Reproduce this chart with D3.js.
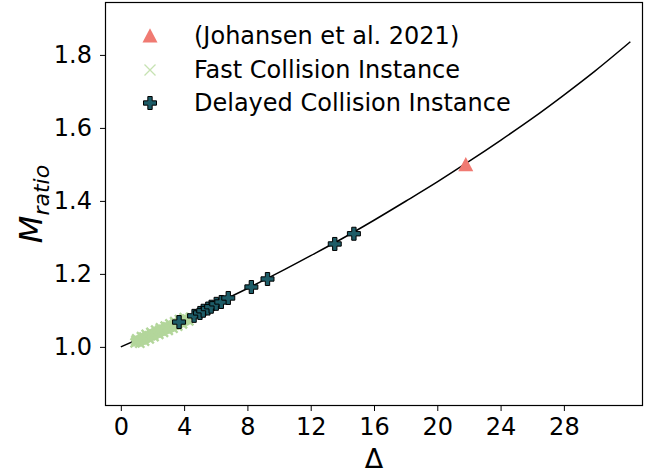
<!DOCTYPE html>
<html>
<head>
<meta charset="utf-8">
<script src="https://cdn.jsdelivr.net/npm/d3@7"></script>
<style>
body { margin: 0; background: #fff; }
svg text { font-family: "DejaVu Sans", sans-serif; fill: #000; }
</style>
</head>
<body>
<div id="chart"></div>
<script>
// fitted relation
var curveDelta = [0, 2, 4, 6, 8, 10, 12, 14, 16, 18, 20, 22, 24, 26, 28, 30, 32.2];
var curveM = [1.000, 1.038, 1.077, 1.118, 1.160, 1.204, 1.250, 1.297, 1.347, 1.399, 1.452, 1.508, 1.566, 1.626, 1.690, 1.757, 1.836];

// Johansen et al. 2021
var johansenDelta = [21.8];
var johansenM = [1.499];

// fast collision instances (dense band)
var fastDelta = [0.9, 1.0, 1.1, 1.2, 1.3, 1.4, 1.5, 1.6, 1.7, 1.8, 1.9, 2.0, 2.1, 2.2, 2.3, 2.4, 2.5, 2.6, 2.7, 2.8, 2.9, 3.0, 3.1, 3.2, 3.3, 3.4, 3.5, 3.6, 3.7, 3.8, 3.9, 4.0, 4.1, 4.2,
    1.0, 1.3, 1.6, 1.9, 2.2, 2.5, 2.8, 3.1, 3.4, 3.7, 4.0,
    1.2, 1.5, 1.8, 2.1, 2.4, 2.7, 3.0, 3.3, 3.6, 3.9, 4.3,
    0.95, 1.45, 1.95, 2.45, 2.95, 3.45, 3.95, 4.4];
var fastM = [1.011, 1.014, 1.015, 1.018, 1.019, 1.022, 1.023, 1.026, 1.027, 1.030, 1.031, 1.034, 1.035, 1.038, 1.039, 1.041, 1.044, 1.045, 1.048, 1.049, 1.052, 1.052, 1.055, 1.056, 1.059, 1.060, 1.063, 1.064, 1.067, 1.068, 1.071, 1.072, 1.075, 1.076,
    1.022, 1.028, 1.034, 1.040, 1.046, 1.052, 1.057, 1.063, 1.069, 1.075, 1.080,
    1.010, 1.016, 1.022, 1.028, 1.034, 1.040, 1.045, 1.051, 1.057, 1.063, 1.071,
    1.017, 1.027, 1.036, 1.046, 1.055, 1.065, 1.074, 1.081];

// delayed collision instances
var delayedDelta = [3.68, 4.63, 5.0, 5.21, 5.5, 5.71, 6.03, 6.35, 6.79, 8.25, 9.27, 13.52, 14.73];
var delayedM = [1.068, 1.085, 1.093, 1.099, 1.105, 1.110, 1.118, 1.123, 1.134, 1.164, 1.186, 1.282, 1.310];

var xTicks = [0, 4, 8, 12, 16, 20, 24, 28];
var yTicks = [1.0, 1.2, 1.4, 1.6, 1.8];
var legendLabels = ["(Johansen et al. 2021)", "Fast Collision Instance", "Delayed Collision Instance"];

var width = 654, height = 475;
var margin = {left: 105, right: 11, top: 2, bottom: 69};

var svg = d3.select("#chart").append("svg")
    .attr("width", width)
    .attr("height", height);

var x = d3.scaleLinear().domain([-1, 33]).range([margin.left, width - margin.right]);
var y = d3.scaleLinear().domain([0.838, 1.945]).range([height - margin.bottom, margin.top]);

var tealFill = "#1d5c67", salmon = "#f07a72", green = "#b3d69b";

// marker shapes
function plusPath(s) {
    var a = s / 2, b = s / 6;
    return "M" + (-b) + "," + (-a) + "L" + b + "," + (-a) + "L" + b + "," + (-b) + "L" + a + "," + (-b) +
        "L" + a + "," + b + "L" + b + "," + b + "L" + b + "," + a + "L" + (-b) + "," + a +
        "L" + (-b) + "," + b + "L" + (-a) + "," + b + "L" + (-a) + "," + (-b) + "L" + (-b) + "," + (-b) + "Z";
}
function crossPath(s) {
    var a = s / 2;
    return "M" + (-a) + "," + (-a) + "L" + a + "," + a + "M" + (-a) + "," + a + "L" + a + "," + (-a);
}
function triPath(s) {
    var a = s / 2;
    return "M0," + (-a * 1.05) + "L" + a + "," + (a * 0.85) + "L" + (-a) + "," + (a * 0.85) + "Z";
}

var plot = svg.append("g");

// fit line
var lineData = curveDelta.map(function(d, i) { return [d, curveM[i]]; });
plot.append("path")
    .datum(lineData)
    .attr("fill", "none")
    .attr("stroke", "#000")
    .attr("stroke-width", 1.5)
    .attr("d", d3.line().x(function(d) { return x(d[0]); }).y(function(d) { return y(d[1]); }).curve(d3.curveMonotoneX));

// fast collision
plot.selectAll(".fast")
    .data(fastDelta)
    .enter().append("path")
    .attr("class", "fast")
    .attr("transform", function(d, i) { return "translate(" + x(d) + "," + y(fastM[i]) + ")"; })
    .attr("d", crossPath(9))
    .attr("fill", "none")
    .attr("stroke", green)
    .attr("stroke-width", 2.4);

// delayed collision
plot.selectAll(".delayed")
    .data(delayedDelta)
    .enter().append("path")
    .attr("class", "delayed")
    .attr("transform", function(d, i) { return "translate(" + x(d) + "," + y(delayedM[i]) + ")"; })
    .attr("d", plusPath(13))
    .attr("fill", tealFill)
    .attr("stroke", "#000")
    .attr("stroke-width", 1);

// johansen
plot.selectAll(".joh")
    .data(johansenDelta)
    .enter().append("path")
    .attr("class", "joh")
    .attr("transform", function(d, i) { return "translate(" + x(d) + "," + y(johansenM[i]) + ")"; })
    .attr("d", triPath(15))
    .attr("fill", salmon);

// frame
svg.append("rect")
    .attr("x", margin.left + 0.5)
    .attr("y", margin.top + 0.5)
    .attr("width", width - margin.right - margin.left - 1)
    .attr("height", height - margin.bottom - margin.top - 1)
    .attr("fill", "none")
    .attr("stroke", "#000")
    .attr("stroke-width", 1.2);

// axes
var xAxis = svg.append("g")
    .attr("transform", "translate(0," + (height - margin.bottom) + ")")
    .call(d3.axisBottom(x).tickValues(xTicks).tickSize(5).tickPadding(7));
var yAxis = svg.append("g")
    .attr("transform", "translate(" + margin.left + ",0)")
    .call(d3.axisLeft(y).tickValues(yTicks).tickFormat(d3.format(".1f")).tickSize(5).tickPadding(8));
[xAxis, yAxis].forEach(function(ax) {
    ax.select(".domain").remove();
    ax.selectAll("text").attr("font-size", 24).attr("font-family", "DejaVu Sans");
});

// axis labels
svg.append("text")
    .attr("x", (margin.left + width - margin.right) / 2)
    .attr("y", 468)
    .attr("text-anchor", "middle")
    .attr("font-size", 27)
    .text("\u0394");

var yl = svg.append("text")
    .attr("transform", "translate(42," + ((margin.top + height - margin.bottom) / 2) + ") rotate(-90)")
    .attr("text-anchor", "middle")
    .attr("font-size", 32)
    .attr("font-style", "italic");
yl.append("tspan").text("M");
yl.append("tspan").attr("font-size", 22).attr("dy", 7).text("ratio");

// legend
var legend = svg.append("g");
var rowY = [36, 70, 103];
legend.selectAll(".lg-text")
    .data(legendLabels)
    .enter().append("text")
    .attr("x", 194)
    .attr("y", function(d, i) { return rowY[i]; })
    .attr("dy", "0.35em")
    .attr("font-size", 24)
    .text(function(d) { return d; });
legend.append("path").attr("transform", "translate(150," + rowY[0] + ")").attr("d", triPath(15)).attr("fill", salmon);
legend.append("path").attr("transform", "translate(150," + rowY[1] + ")").attr("d", crossPath(11)).attr("fill", "none").attr("stroke", "#c6e2b2").attr("stroke-width", 1.3);
legend.append("path").attr("transform", "translate(150," + rowY[2] + ")").attr("d", plusPath(13)).attr("fill", tealFill).attr("stroke", "#000").attr("stroke-width", 1);
</script>
</body>
</html>
